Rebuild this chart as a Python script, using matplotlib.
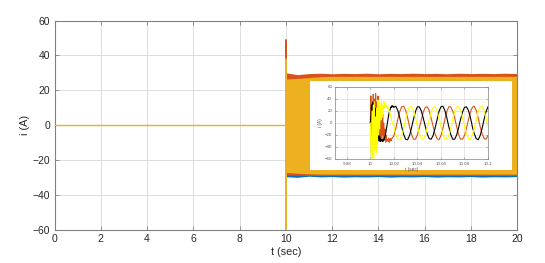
import numpy as np
import matplotlib
matplotlib.use('Agg')
import matplotlib.pyplot as plt
from matplotlib.patches import Rectangle

plt.rcParams['font.family'] = ['Liberation Sans', 'DejaVu Sans']

# ---------------- data ----------------
# main plot: flat zero before the fault
t_pre = [0.0, 10.0]
i_pre = [0.0, 0.0]

# transient sampled every 0.5 ms from t = 10.000 s to 10.0195 s
t_trans = np.round(10.0 + 0.0005 * np.arange(40), 4)
ia_trans = [0, 10, 30, 20, 35, 25, 32, 15, 25, 5, 10, -10, -5, -25, -18, -30, -22, -31, -26, -30,
            -28, -31, -27, -29, -25, -22, -18, -12, -6, 0, 6, 12, 17, 21, 24, 27, 26, 29, 27, 28]
ib_trans = [0, 45, -50, 30, -20, 48, 10, 40, -15, 49, 5, 35, -10, 45, -20, 30, -30, 20, -25, 10,
            -20, 15, -30, 0, -28, -10, -32, -20, -30, -28, -30, -25, -32, -28, -26, -30, -27, -25, -24, -23]
ic_trans = [0, -40, -60, 20, -58, 30, -60, 35, -45, 10, -50, 25, -35, 38, -20, 35, -10, 30, 5, 37,
            10, 30, 22, 36, 25, 33, 28, 30, 27, 29, 24, 26, 20, 18, 14, 10, 6, 2, -1, -4]

# steady state sampled every 1/600 s from t = 10.02 s to 10.1 s
t_steady = 10.02 + np.arange(49) / 600.0
ia_steady = [26, 28, 21, 9, -6, -19, -27, -28, -21, -8, 6, 19,
             27, 27, 20, 8, -5, -18, -26, -27, -21, -9, 5, 19,
             27, 28, 21, 9, -6, -19, -27, -27, -20, -8, 6, 18,
             26, 27, 21, 10, -6, -18, -26, -28, -21, -9, 6, 19,
             27]
ib_steady = [-21, -9, 6, 19, 27, 28, 21, 9, -6, -19, -27, -27,
             -20, -8, 5, 18, 26, 27, 21, 8, -5, -18, -26, -28,
             -21, -9, 6, 19, 27, 27, 20, 9, -6, -19, -27, -27,
             -21, -9, 5, 18, 26, 28, 21, 9, -6, -18, -26, -27,
             -21]
ic_steady = [-6, -19, -27, -28, -21, -9, 6, 19, 27, 28, 21, 9,
             -5, -18, -26, -27, -21, -8, 5, 18, 26, 27, 20, 8,
             -6, -19, -27, -27, -21, -9, 6, 19, 27, 27, 21, 9,
             -6, -18, -26, -28, -20, -9, 5, 19, 26, 28, 21, 9,
             -6]

# envelopes of the dense 50 Hz band in the main plot (10 s .. 20 s)
t_env = [10.02, 10.5, 11, 11.5, 12, 12.5, 13, 13.5, 14, 14.5, 15, 15.5, 16, 16.5, 17, 17.5, 18, 18.5, 19, 19.5, 20]
ia_hi = [28.0, 27.5, 28.0, 28.2, 28.3, 28.2, 28.3, 28.2, 28.3, 28.2, 28.3, 28.2, 28.3, 28.2, 28.3, 28.2, 28.3, 28.2, 28.3, 28.2, 28.3]
ia_lo = [-29.5, -29.8, -29.2, -29.6, -29.4, -29.7, -29.5, -29.6, -29.4, -29.7, -29.5, -29.6, -29.4, -29.7, -29.5, -29.6, -29.4, -29.7, -29.5, -29.6, -29.4]
ib_hi = [30.0, 29.0, 29.6, 29.8, 29.5, 29.7, 29.6, 29.8, 29.5, 29.7, 29.6, 29.8, 29.6, 29.7, 29.5, 29.8, 29.6, 29.7, 29.6, 29.8, 29.6]
ib_lo = [-28.5, -28.6, -28.7, -28.8, -28.7, -28.8, -28.7, -28.8, -28.7, -28.8, -28.7, -28.8, -28.7, -28.8, -28.7, -28.8, -28.7, -28.8, -28.7, -28.8, -28.7]
ic_hi = [26.5, 26.8, 27.3, 27.8, 28.0, 28.0, 28.0, 28.0, 28.0, 28.0, 28.0, 28.0, 28.0, 28.0, 28.0, 28.0, 28.0, 28.0, 28.0, 28.0, 28.0]
ic_lo = [-27.0, -27.5, -27.8, -28.0, -28.0, -28.0, -28.0, -28.0, -28.0, -28.0, -28.0, -28.0, -28.0, -28.0, -28.0, -28.0, -28.0, -28.0, -28.0, -28.0, -28.0]

x_ticks = [0, 2, 4, 6, 8, 10, 12, 14, 16, 18, 20]
y_ticks = [-60, -40, -20, 0, 20, 40, 60]
inset_x_ticks = [9.98, 10.0, 10.02, 10.04, 10.06, 10.08, 10.1]
inset_x_labels = ['9.98', '10', '10.02', '10.04', '10.06', '10.08', '10.1']

# ---------------- style ----------------
C_BLUE, C_ORANGE, C_YELLOW = '#0072BD', '#D95319', '#EDB120'
SPINE = '#808080'
TXT = '#262626'
GRID = '#dddddd'

fig = plt.figure(figsize=(5.45, 2.63), dpi=100)
ax = fig.add_axes([54.5 / 545, 1 - 230 / 263, (517 - 54.5) / 545, (230 - 20.5) / 263])

# main curves
ax.plot(t_pre, i_pre, color=C_YELLOW, lw=1.0, zorder=3)
ax.plot(t_trans, ia_trans, color=C_BLUE, lw=0.9)
ax.plot(t_trans, ib_trans, color=C_ORANGE, lw=0.9)
ax.plot(t_trans, ic_trans, color=C_YELLOW, lw=0.9)
ax.fill_between(t_env, ia_lo, ia_hi, color=C_BLUE, lw=0)
ax.fill_between(t_env, ib_lo, ib_hi, color=C_ORANGE, lw=0)
ax.fill_between(t_env, ic_lo, ic_hi, color=C_YELLOW, lw=0)

ax.set_xlim(0, 20)
ax.set_ylim(-60, 60)
ax.set_xticks(x_ticks)
ax.set_yticks(y_ticks)
ax.grid(True, color=GRID, lw=0.7)
ax.set_axisbelow(True)
for s in ax.spines.values():
    s.set_color(SPINE)
    s.set_linewidth(0.8)
ax.tick_params(direction='in', length=3, width=0.6, color=SPINE, labelcolor=TXT,
               labelsize=7.5, top=True, right=True, pad=3)
ax.set_xlabel('t (sec)', fontsize=7.8, color=TXT, labelpad=2)
ax.set_ylabel('i (A)', fontsize=7.8, color=TXT, labelpad=2)

# white panel behind inset
fig.patches.append(Rectangle((310 / 545, 1 - 170 / 263), 202 / 545, 89 / 263,
                             transform=fig.transFigure, facecolor='white',
                             edgecolor='none', zorder=1))

axi = fig.add_axes([335 / 545, 1 - 159 / 263, 153 / 545, 72 / 263])
axi.set_zorder(2)
axi.plot([9.97, 10.0], [0, 0], color='#FFFF00', lw=0.7)
axi.plot(np.concatenate([t_trans, t_steady]), ib_trans + ib_steady, color=C_ORANGE, lw=0.8)
axi.plot(np.concatenate([t_trans, t_steady]), ia_trans + ia_steady, color='black', lw=0.8)
axi.plot(np.concatenate([t_trans, t_steady]), ic_trans + ic_steady, color='#FFFF00', lw=0.8)
axi.set_xlim(9.97, 10.1)
axi.set_ylim(-60, 60)
axi.set_xticks(inset_x_ticks)
axi.set_xticklabels(inset_x_labels)
axi.set_yticks(y_ticks)
axi.grid(True, color=GRID, lw=0.5)
axi.set_axisbelow(True)
for s in axi.spines.values():
    s.set_color(SPINE)
    s.set_linewidth(0.5)
axi.tick_params(direction='in', length=1.5, width=0.4, color=SPINE, labelcolor='#555555',
                labelsize=3.2, top=True, right=True, pad=2)
axi.set_xlabel('t (sec)', fontsize=3.4, color='#555555', labelpad=1)
axi.set_ylabel('i (A)', fontsize=3.4, color='#555555', labelpad=1)

fig.savefig('out.png', dpi=100)
